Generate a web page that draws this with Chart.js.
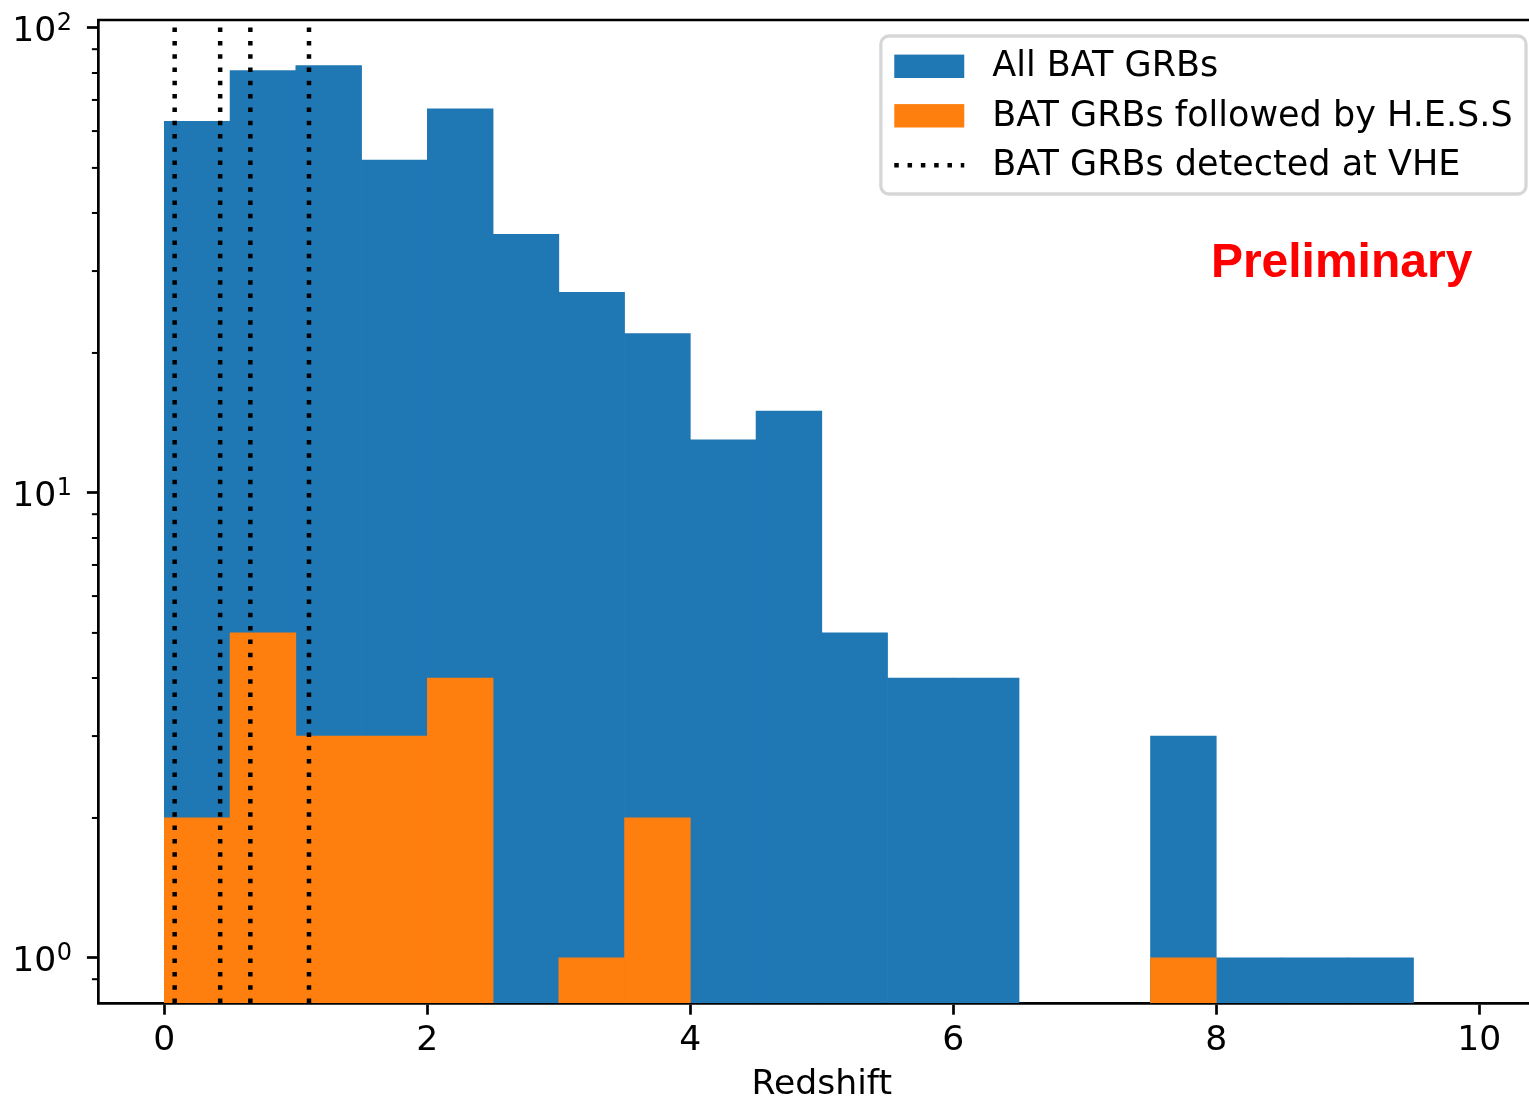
<!DOCTYPE html>
<html>
<head>
<meta charset="utf-8">
<title>BAT GRBs redshift distribution</title>
<script src="https://cdn.jsdelivr.net/npm/chart.js@4.4.1/dist/chart.umd.min.js"></script>
<style>
    html, body { margin: 0; padding: 0; background: #fff; overflow: hidden; }
    #wrap { width: 1529px; height: 1102px; overflow: hidden; }
    canvas { display: block; }
</style>
</head>
<body>
<div id="wrap"><canvas id="zHist" width="1545" height="1102"></canvas></div>
<script>
// ========== data ==========
// histogram bins: left edges, width 0.5
const binEdges = [0, 0.5, 1, 1.5, 2, 2.5, 3, 3.5, 4, 4.5, 5, 5.5, 6, 6.5, 7, 7.5, 8, 8.5, 9, 9.5];
const binWidth = 0.5;
const allCounts  = [63, 81, 83, 52, 67, 36, 27, 22, 13, 15, 5, 4, 4, 0, 0, 3, 1, 1, 1, 0];
const hessCounts = [2, 5, 3, 3, 4, 0, 1, 2, 0, 0, 0, 0, 0, 0, 0, 1, 0, 0, 0, 0];
// GRBs detected at VHE (190829A, 190114C, 180720B, 201216C)
const vheRedshifts = [0.0785, 0.4245, 0.654, 1.1];

const xTicks = [0, 2, 4, 6, 8, 10];
const yTicks = [1, 10, 100];
const yTickBase = '10';
const yTickExps = ['0', '1', '2'];
const yMinorTicks = [0.9, 2, 3, 4, 5, 6, 7, 8, 9, 20, 30, 40, 50, 60, 70, 80, 90];
const xRange = [-0.5, 10.5];
const yRange = [0.8, 104];

const seriesLabels = ['All BAT GRBs', 'BAT GRBs followed by H.E.S.S', 'BAT GRBs detected at VHE'];
const seriesColors = ['#1f77b4', '#ff7f0e', '#000000'];

const FONT = 'DejaVu Sans';
const FS = 34.6;
const LEGEND_FS = 35;
const dotDash = [4.5, 8.8];

function toBars(counts) {
    return binEdges
        .map((e, i) => ({ x: e + binWidth / 2, y: counts[i] }))
        .filter(p => p.y > 0);
}

// ========== 额外绘制: 上边框, 次刻度, y 标签, 图例, Preliminary ==========
const extrasPlugin = {
    id: 'extras',
    afterDraw(chart) {
        const ctx = chart.ctx;
        const area = chart.chartArea;
        const yScale = chart.scales.y;
        ctx.save();

        // top spine
        ctx.strokeStyle = '#000';
        ctx.lineWidth = 2.7;
        ctx.beginPath();
        ctx.moveTo(area.left - 1.35, area.top);
        ctx.lineTo(area.right, area.top);
        ctx.stroke();

        // minor ticks on log axis
        ctx.lineWidth = 2;
        yMinorTicks.forEach(v => {
            const py = yScale.getPixelForValue(v);
            ctx.beginPath();
            ctx.moveTo(area.left - 6.7, py);
            ctx.lineTo(area.left, py);
            ctx.stroke();
        });

        // y tick labels 10^n (mathtext style)
        ctx.fillStyle = '#000';
        ctx.textAlign = 'right';
        ctx.textBaseline = 'alphabetic';
        const labelRight = area.left - 26.6;
        yScale.ticks.forEach((t, i) => {
            const py = yScale.getPixelForValue(t.value);
            const base = py + 12.8;
            ctx.font = `24px "${FONT}"`;
            const expW = ctx.measureText(yTickExps[i]).width;
            ctx.fillText(yTickExps[i], labelRight, base - 11);
            ctx.font = `${FS}px "${FONT}"`;
            ctx.fillText(yTickBase, labelRight - expW - 0.5, base);
        });

        // legend
        ctx.font = `${LEGEND_FS}px "${FONT}"`;
        const textW = Math.max(...seriesLabels.map(t => ctx.measureText(t).width));
        const pad = 13.4, handleLen = 70, handleGap = 28, rowGap = 49.5;
        const boxW = pad + handleLen + handleGap + textW + pad;
        const right = area.right - 19;
        const left = right - boxW;
        const top = area.top + 16;
        const boxH = 158;
        ctx.beginPath();
        ctx.roundRect(left, top, boxW, boxH, 8);
        ctx.fillStyle = 'rgba(255,255,255,0.8)';
        ctx.fill();
        ctx.strokeStyle = 'rgba(204,204,204,0.8)';
        ctx.lineWidth = 3.3;
        ctx.stroke();

        seriesLabels.forEach((label, i) => {
            const cy = top + 30.3 + i * rowGap;
            const hx = left + pad;
            if (i < 2) {
                ctx.fillStyle = seriesColors[i];
                ctx.fillRect(hx, cy - 11.7, handleLen, 23.4);
            } else {
                ctx.strokeStyle = seriesColors[i];
                ctx.lineWidth = 4.5;
                ctx.setLineDash(dotDash);
                ctx.beginPath();
                ctx.moveTo(hx, cy);
                ctx.lineTo(hx + handleLen, cy);
                ctx.stroke();
                ctx.setLineDash([]);
            }
            ctx.fillStyle = '#000';
            ctx.textAlign = 'left';
            ctx.textBaseline = 'middle';
            ctx.fillText(label, hx + handleLen + handleGap, cy + 1);
        });

        // Preliminary
        ctx.fillStyle = '#ff0000';
        ctx.font = 'bold 48px "Liberation Sans", Arial, sans-serif';
        ctx.textAlign = 'left';
        ctx.textBaseline = 'alphabetic';
        ctx.fillText('Preliminary', area.left + 0.769 * (area.right - area.left), area.top + 257);

        ctx.restore();
    }
};

// ========== 图表 ==========
function initRedshiftHist() {
    const canvas = document.getElementById('zHist');
    const ctx = canvas.getContext('2d');

    const tickFont = { family: FONT, size: FS };
    const axisGrid = {
        drawOnChartArea: false,
        drawTicks: true,
        tickLength: 11.7,
        tickWidth: 2.7,
        tickColor: '#000',
        offset: false
    };
    const axisBorder = { display: true, color: '#000', width: 2.7 };

    const vheSets = vheRedshifts.map(z => ({
        type: 'line',
        label: seriesLabels[2],
        data: [{ x: z, y: yRange[0] }, { x: z, y: yRange[1] }],
        borderColor: seriesColors[2],
        borderWidth: 4.5,
        borderDash: dotDash,
        borderCapStyle: 'butt',
        pointRadius: 0,
        fill: false,
        order: 1
    }));

    new Chart(ctx, {
        type: 'bar',
        data: {
            datasets: [
                {
                    label: seriesLabels[0],
                    data: toBars(allCounts),
                    backgroundColor: seriesColors[0],
                    order: 3
                },
                {
                    label: seriesLabels[1],
                    data: toBars(hessCounts),
                    backgroundColor: seriesColors[1],
                    order: 2
                },
                ...vheSets
            ]
        },
        options: {
            responsive: false,
            animation: false,
            devicePixelRatio: 1,
            layout: { padding: { top: 20, right: 0, bottom: 0, left: 0 } },
            datasets: {
                bar: { barPercentage: 1, categoryPercentage: 1, grouped: false, borderWidth: 0 }
            },
            plugins: { legend: { display: false }, tooltip: { enabled: false } },
            scales: {
                x: {
                    type: 'linear',
                    min: xRange[0],
                    max: xRange[1],
                    offset: false,
                    afterBuildTicks: s => { s.ticks = xTicks.map(v => ({ value: v })); },
                    afterFit: s => { s.height = 99; s.paddingLeft = 0; s.paddingRight = 0; },
                    ticks: { font: tickFont, color: '#000', padding: 6, maxRotation: 0, callback: v => String(v) },
                    grid: axisGrid,
                    border: axisBorder,
                    title: {
                        display: true,
                        text: 'Redshift',
                        color: '#000',
                        font: { family: FONT, size: FS, lineHeight: 1.0 },
                        padding: { top: 0, bottom: 0 }
                    }
                },
                y: {
                    type: 'logarithmic',
                    min: yRange[0],
                    max: yRange[1],
                    bounds: 'data',
                    afterBuildTicks: s => { s.ticks = yTicks.map(v => ({ value: v })); },
                    afterFit: s => { s.width = 98.6; s.paddingTop = 0; s.paddingBottom = 0; },
                    ticks: { display: false },
                    grid: axisGrid,
                    border: axisBorder
                }
            }
        },
        plugins: [extrasPlugin]
    });
}

initRedshiftHist();
</script>
</body>
</html>
